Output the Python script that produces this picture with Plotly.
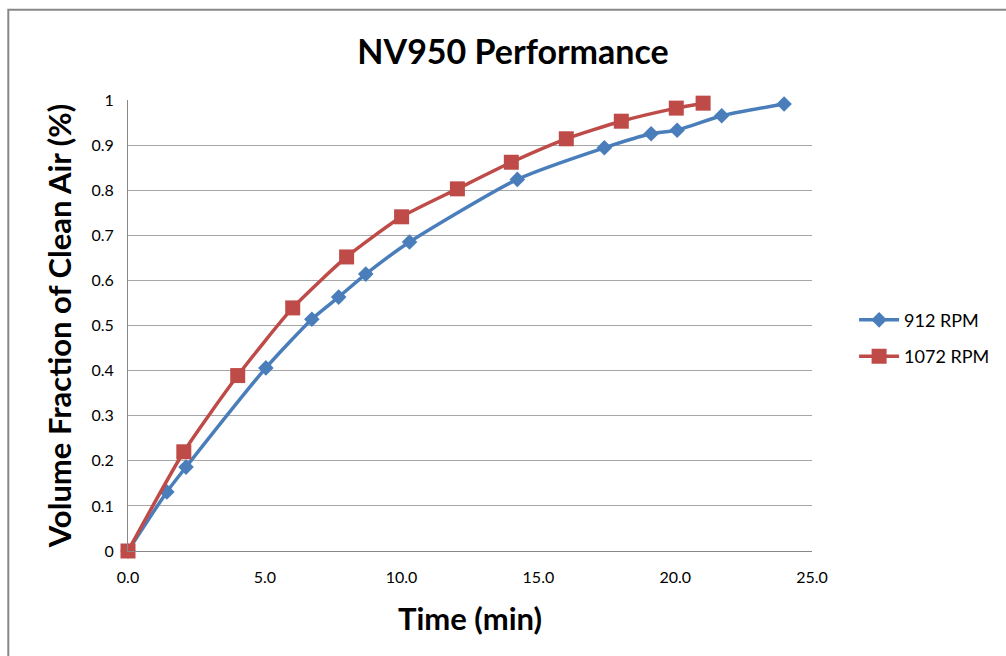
import plotly.graph_objects as go

x_912 = [0.0, 1.42, 2.12, 5.04, 6.72, 7.70, 8.69, 10.29, 14.23, 17.41, 19.12, 20.07, 21.70, 23.98]
y_912 = [0.0, 0.131, 0.186, 0.406, 0.514, 0.563, 0.614, 0.685, 0.824, 0.894, 0.925, 0.933, 0.965, 0.991]
x_1072 = [0.0, 2.04, 4.01, 6.02, 7.99, 10.0, 12.04, 14.01, 16.02, 18.03, 20.04, 21.02]
y_1072 = [0.0, 0.22, 0.389, 0.539, 0.652, 0.741, 0.803, 0.862, 0.914, 0.953, 0.982, 0.993]

x_ticks = [0, 5, 10, 15, 20, 25]
x_labels = ["0.0", "5.0", "10.0", "15.0", "20.0", "25.0"]
y_ticks = [0, 0.1, 0.2, 0.3, 0.4, 0.5, 0.6, 0.7, 0.8, 0.9, 1]
y_labels = ["0", "0.1", "0.2", "0.3", "0.4", "0.5", "0.6", "0.7", "0.8", "0.9", "1"]

fig = go.Figure()
fig.add_trace(go.Scatter(
    x=x_912, y=y_912, name="912 RPM", mode="lines+markers", legendgroup="a",
    line=dict(color="#4a7ebb", width=3.5, shape="spline", smoothing=0.6),
    marker=dict(symbol="diamond", size=12, color="#4a7ebb"),
))
fig.add_trace(go.Scatter(
    x=x_1072, y=y_1072, name="1072 RPM", mode="lines+markers", legendgroup="b",
    line=dict(color="#be4b48", width=3.5, shape="spline", smoothing=0.6),
    marker=dict(symbol="square", size=15, color="#be4b48"),
))

font_family = "Lato, 'Open Sans', sans-serif"
fig.update_layout(
    width=1006, height=656,
    margin=dict(l=128, r=193, t=100, b=105),
    paper_bgcolor="white", plot_bgcolor="white",
    font=dict(family=font_family, color="black"),
    title=dict(text="<b>NV950 Performance</b>", x=0.51, xanchor="center", y=0.92, yanchor="middle",
               font=dict(size=34, family=font_family, color="black")),
    xaxis=dict(range=[0, 25], tickvals=x_ticks, ticktext=x_labels, showgrid=False,
               showline=True, linecolor="#888888", linewidth=1, ticks="", zeroline=False,
               tickfont=dict(size=16), ticklabelstandoff=12,
               title=dict(text="<b>Time (min)</b>", font=dict(size=31), standoff=23)),
    yaxis=dict(range=[0, 1], tickvals=y_ticks, ticktext=y_labels, showgrid=True,
               gridcolor="#a6a6a6", gridwidth=1, showline=True, linecolor="#888888",
               linewidth=1, ticks="", zeroline=False, tickfont=dict(size=16),
               ticklabelstandoff=10,
               title=dict(text="<b>Volume Fraction of Clean Air (%)</b>", font=dict(size=31), standoff=10)),
    legend=dict(x=1.06, y=0.472, xanchor="left", yanchor="middle", font=dict(size=18),
                itemwidth=40, tracegroupgap=10, bgcolor="rgba(0,0,0,0)"),
    shapes=[dict(type="rect", xref="paper", yref="paper", x0=-0.175, x1=1.3, y0=-0.26, y1=1.2,
                 line=dict(color="#888888", width=2), layer="below")],
)
fig.update_traces(cliponaxis=False)

fig.write_html("out.html")
